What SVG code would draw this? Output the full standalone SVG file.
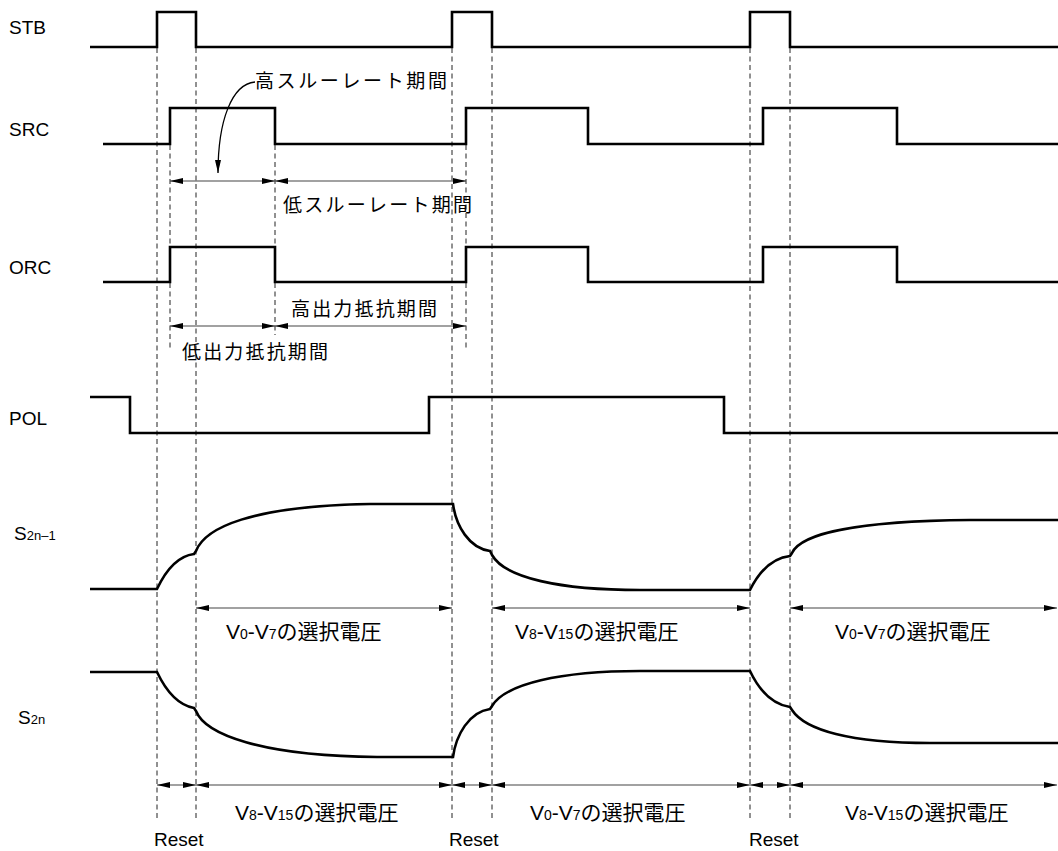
<svg xmlns="http://www.w3.org/2000/svg" width="1058" height="851" viewBox="0 0 1058 851">
<defs>
<style>
.wave{fill:none;stroke:#000;stroke-width:2.6;stroke-linejoin:miter}
.dash{fill:none;stroke:#222;stroke-width:1;stroke-dasharray:5,3.5}
.arr{fill:none;stroke:#444;stroke-width:1.2;marker-start:url(#ah);marker-end:url(#ah)}
.lbl{font-family:"Liberation Sans",Arial,sans-serif;font-size:19px;fill:#000}
.jp{font-family:"Liberation Sans","Noto Sans CJK JP",sans-serif;font-size:19px;fill:#000}
.vl{font-size:21px}
.sub{font-size:13px}
.vl .sub{font-size:14px}
</style>
<marker id="ah" viewBox="0 0 13 6" refX="13" refY="3" markerWidth="13" markerHeight="6" markerUnits="userSpaceOnUse" orient="auto-start-reverse">
<path d="M0,0 L13,3 L0,6 z" fill="#000"/>
</marker>
<marker id="ah1" viewBox="0 0 13 6" refX="13" refY="3" markerWidth="13" markerHeight="6" markerUnits="userSpaceOnUse" orient="auto">
<path d="M0,0 L13,3 L0,6 z" fill="#000"/>
</marker>
</defs>
<rect width="1058" height="851" fill="#fff"/>

<g id="connectors">
<g id="dashed">
<line class="dash" x1="157" y1="48" x2="157" y2="818"/>
<line class="dash" x1="196" y1="48" x2="196" y2="818"/>
<line class="dash" x1="452" y1="48" x2="452" y2="818"/>
<line class="dash" x1="492" y1="48" x2="492" y2="818"/>
<line class="dash" x1="750" y1="48" x2="750" y2="818"/>
<line class="dash" x1="790" y1="48" x2="790" y2="818"/>
<line class="dash" x1="170" y1="145" x2="170" y2="247"/>
<line class="dash" x1="170" y1="283" x2="170" y2="351"/>
<line class="dash" x1="275" y1="145" x2="275" y2="247"/>
<line class="dash" x1="275" y1="283" x2="275" y2="335"/>
<line class="dash" x1="466" y1="145" x2="466" y2="247"/>
<line class="dash" x1="466" y1="283" x2="466" y2="349"/>
</g>
<g id="arrows">
<line class="arr" x1="170" y1="181" x2="275" y2="181"/>
<line class="arr" x1="275" y1="181" x2="466" y2="181"/>
<line class="arr" x1="170" y1="326" x2="275" y2="326"/>
<line class="arr" x1="275" y1="326" x2="466" y2="326"/>
<line class="arr" x1="196" y1="608" x2="452" y2="608"/>
<line class="arr" x1="492" y1="608" x2="750" y2="608"/>
<line class="arr" x1="790" y1="608" x2="1057" y2="608"/>
<line class="arr" x1="157" y1="785" x2="196" y2="785"/>
<line class="arr" x1="196" y1="785" x2="452" y2="785"/>
<line class="arr" x1="452" y1="785" x2="492" y2="785"/>
<line class="arr" x1="492" y1="785" x2="750" y2="785"/>
<line class="arr" x1="750" y1="785" x2="790" y2="785"/>
<line class="arr" x1="790" y1="785" x2="1057" y2="785"/>
<path d="M255,82 C232,84 218,120 218,173" fill="none" stroke="#000" stroke-width="1.3" marker-end="url(#ah1)"/>
</g>
</g>

<g id="STB">
<text class="lbl" x="9" y="34">STB</text>
<path class="wave" d="M90,47 H157 V12 H196 V47 H452 V12 H492 V47 H750 V12 H790 V47 H1058"/>
</g>
<g id="SRC">
<text class="lbl" x="9" y="136">SRC</text>
<path class="wave" d="M103,144 H170 V108 H275 V144 H466 V108 H588 V144 H763 V108 H897 V144 H1058"/>
</g>
<g id="ORC">
<text class="lbl" x="9" y="274">ORC</text>
<path class="wave" d="M103,282 H170 V247 H275 V282 H466 V247 H588 V282 H763 V247 H897 V282 H1058"/>
</g>
<g id="POL">
<text class="lbl" x="9" y="425">POL</text>
<path class="wave" d="M90,397 H130 V433 H429 V397 H724 V433 H1058"/>
</g>
<g id="S2n-1">
<text class="lbl" x="14" y="540" font-size="20">S<tspan class="sub">2n–1</tspan></text>
<path class="wave" d="M90,589 H157 C166,570 178,556 194,554 L196,551 C205,528 250,506 370,504 H453 C456,526 469,548 490,551 L492,555 C505,578 560,590 640,590 H750 C759,572 772,558 790,556 L792,553 C800,535 850,521 970,520 H1058"/>
</g>
<g id="S2n">
<text class="lbl" x="18" y="724" font-size="20">S<tspan class="sub">2n</tspan></text>
<path class="wave" d="M90,672 H157 C166,691 178,705 194,708 L196,711 C205,734 260,756 377,757 H453 C456,735 469,712 490,709 L492,706 C505,684 560,671 640,671 H750 C759,690 772,704 790,707 L792,710 C805,730 850,743 930,743 H1058"/>
</g>

<g id="labels">
<text class="jp" x="255" y="88" textLength="192" lengthAdjust="spacing">高スルーレート期間</text>
<text class="jp" x="283" y="212" textLength="189" lengthAdjust="spacing">低スルーレート期間</text>
<text class="jp" x="291" y="316" textLength="146" lengthAdjust="spacing">高出力抵抗期間</text>
<text class="jp" x="182" y="359" textLength="146" lengthAdjust="spacing">低出力抵抗期間</text>
<text class="jp vl" x="226" y="639">V<tspan class="sub">0</tspan>-V<tspan class="sub">7</tspan>の選択電圧</text>
<text class="jp vl" x="515" y="639">V<tspan class="sub">8</tspan>-V<tspan class="sub">15</tspan>の選択電圧</text>
<text class="jp vl" x="835" y="639">V<tspan class="sub">0</tspan>-V<tspan class="sub">7</tspan>の選択電圧</text>
<text class="jp vl" x="235" y="820">V<tspan class="sub">8</tspan>-V<tspan class="sub">15</tspan>の選択電圧</text>
<text class="jp vl" x="530" y="820">V<tspan class="sub">0</tspan>-V<tspan class="sub">7</tspan>の選択電圧</text>
<text class="jp vl" x="845" y="820">V<tspan class="sub">8</tspan>-V<tspan class="sub">15</tspan>の選択電圧</text>
<text class="lbl" x="154" y="846">Reset</text>
<text class="lbl" x="449" y="846">Reset</text>
<text class="lbl" x="749" y="846">Reset</text>
</g>
</svg>
